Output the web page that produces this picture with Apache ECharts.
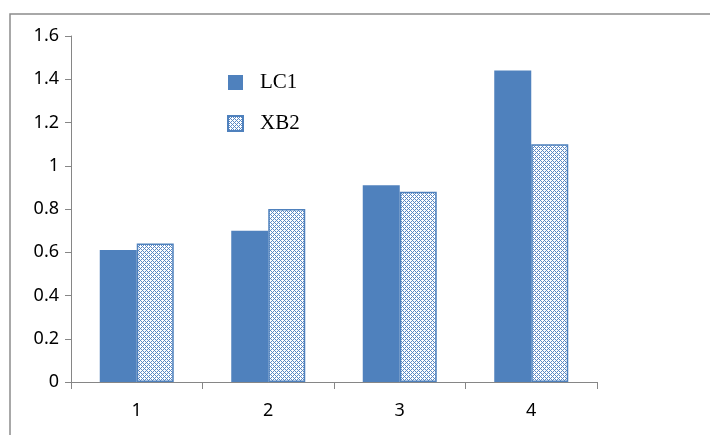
<!DOCTYPE html>
<html>
<head>
<meta charset="utf-8">
<script src="https://cdn.jsdelivr.net/npm/echarts@6/dist/echarts.min.js"></script>
<style>html,body{margin:0;padding:0;background:#fff;}#main{width:710px;height:435px;}</style>
</head>
<body>
<div id="main"></div>
<script>
var categories = ['1', '2', '3', '4'];
var lc1 = [0.61, 0.70, 0.91, 1.44];
var xb2 = [0.64, 0.80, 0.88, 1.10];
var seriesNames = ['LC1', 'XB2'];

var pc = document.createElement('canvas');
pc.width = 4; pc.height = 4;
var ctx = pc.getContext('2d');
ctx.fillStyle = '#ffffff';
ctx.fillRect(0, 0, 4, 4);
ctx.fillStyle = '#5b89c4';
[[0,0],[1,1],[2,2],[3,3],[1,3],[3,1]].forEach(function(p){ ctx.fillRect(p[0], p[1], 1, 1); });

var chart = echarts.init(document.getElementById('main'));
var axisColor = '#868686';
chart.setOption({
  animation: false,
  backgroundColor: '#fff',
  graphic: [{
    type: 'rect', shape: {x: 10, y: 14, width: 720, height: 440},
    style: {fill: 'none', stroke: '#8c8c8c', lineWidth: 1.5}, silent: true
  }],
  legend: {
    orient: 'vertical', left: 222, top: 67, itemGap: 20,
    itemWidth: 15, itemHeight: 15, icon: 'rect',
    textStyle: {fontFamily: 'Liberation Serif', fontSize: 21, color: '#000', padding: [0, 0, 0, 12]},
    data: seriesNames
  },
  grid: {left: 71, right: 113, top: 36, bottom: 53, containLabel: false},
  xAxis: {
    type: 'category', data: categories,
    axisLine: {lineStyle: {color: axisColor, width: 1}},
    axisTick: {show: true, length: 7, alignWithLabel: false, lineStyle: {color: axisColor}},
    axisLabel: {fontFamily: 'Noto Sans', fontSize: 18, color: '#000', margin: 20}
  },
  yAxis: {
    type: 'value', min: 0, max: 1.6, interval: 0.2,
    axisLine: {show: true, lineStyle: {color: axisColor, width: 1}},
    axisTick: {show: true, length: 6, lineStyle: {color: axisColor}},
    splitLine: {show: false},
    axisLabel: {fontFamily: 'Noto Sans', fontSize: 18, color: '#000', margin: 12,
      formatter: function(v){ return String(Math.round(v*10)/10); }}
  },
  series: [
    {name: 'LC1', type: 'bar', data: lc1, barWidth: 37, barGap: '0%',
     itemStyle: {color: '#4F81BD'}},
    {name: 'XB2', type: 'bar', data: xb2, barWidth: 37,
     itemStyle: {color: {image: pc, repeat: 'repeat'}, borderColor: '#4F81BD', borderWidth: 1.5}}
  ]
});
</script>
</body>
</html>
